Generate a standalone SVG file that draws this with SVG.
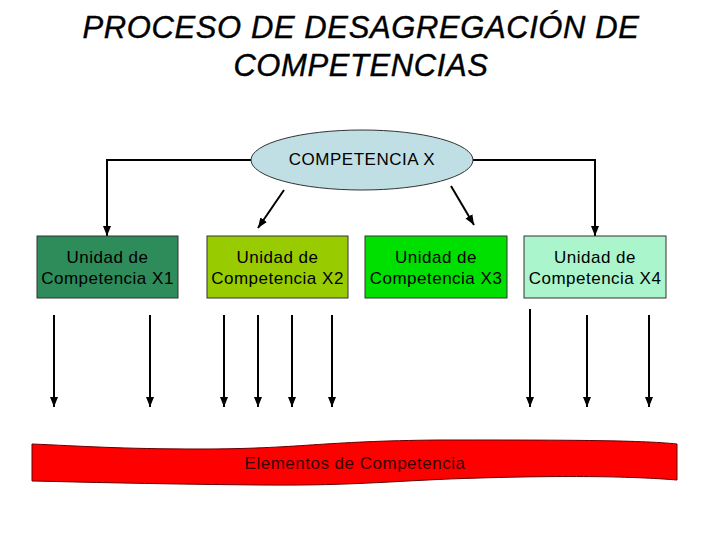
<svg xmlns="http://www.w3.org/2000/svg" width="720" height="540" viewBox="0 0 720 540">
<defs>
<style>
.t{font-family:"Liberation Sans",Arial,sans-serif;}
.title{font-size:31px;font-style:italic;fill:#000;text-anchor:middle;letter-spacing:0.6px;}
.lbl{font-size:17px;fill:#000;text-anchor:middle;letter-spacing:0.5px;}
.box{stroke:#333;stroke-width:1;}
.c{fill:none;stroke:#000;stroke-width:2;}
</style>
<marker id="a" viewBox="0 0 10 10" refX="10" refY="5" markerWidth="5" markerHeight="5" orient="auto">
<path d="M0,1 L10,5 L0,9 z" fill="#000"/>
</marker>
</defs>
<rect width="720" height="540" fill="#fff"/>
<g id="title" class="t">
<text class="t title" x="361" y="38" stroke="#000" stroke-width="0.4">PROCESO DE DESAGREGACIÓN DE</text>
<text class="t title" x="361" y="76" stroke="#000" stroke-width="0.4">COMPETENCIAS</text>
</g>
<g id="connectors">
<path class="c" d="M251,160 H107 V236" marker-end="url(#a)"/>
<path class="c" d="M473,160 H595 V236" marker-end="url(#a)"/>
<path class="c" d="M284,190 L258,228" marker-end="url(#a)"/>
<path class="c" d="M451,186 L474,225" marker-end="url(#a)"/>
<path class="c" d="M54,315 V407" marker-end="url(#a)"/>
<path class="c" d="M150,315 V407" marker-end="url(#a)"/>
<path class="c" d="M224,315 V407" marker-end="url(#a)"/>
<path class="c" d="M258,315 V407" marker-end="url(#a)"/>
<path class="c" d="M292,315 V407" marker-end="url(#a)"/>
<path class="c" d="M332,315 V407" marker-end="url(#a)"/>
<path class="c" d="M530,309 V407" marker-end="url(#a)"/>
<path class="c" d="M587,315 V407" marker-end="url(#a)"/>
<path class="c" d="M649,315 V407" marker-end="url(#a)"/>
</g>
<g id="competencia-x">
<ellipse cx="362" cy="160" rx="111" ry="30" fill="#c0dfe4" stroke="#333" stroke-width="1"/>
<text class="t lbl" x="362" y="165">COMPETENCIA X</text>
</g>
<g id="x1">
<rect class="box" x="37" y="236" width="141" height="62" fill="#2e8b5a"/>
<text class="t lbl" x="107.5" y="263">Unidad de</text>
<text class="t lbl" x="107.5" y="284">Competencia X1</text>
</g>
<g id="x2">
<rect class="box" x="207" y="236" width="141" height="62" fill="#99cc00"/>
<text class="t lbl" x="277.5" y="263">Unidad de</text>
<text class="t lbl" x="277.5" y="284">Competencia X2</text>
</g>
<g id="x3">
<rect class="box" x="365" y="236" width="142" height="62" fill="#00e000"/>
<text class="t lbl" x="436" y="263">Unidad de</text>
<text class="t lbl" x="436" y="284">Competencia X3</text>
</g>
<g id="x4">
<rect class="box" x="524" y="236" width="142" height="62" fill="#aaf5cc"/>
<text class="t lbl" x="595" y="263">Unidad de</text>
<text class="t lbl" x="595" y="284">Competencia X4</text>
</g>
<g id="elementos">
<path d="M32,444 C80,446 120,449 200,449 C300,449 320,441 440,440 C560,440 640,440 677,444 L677,480 C640,477 580,475 480,478 C400,480 360,486 260,485 C150,484 80,482 32,481 Z" fill="#ff0000" stroke="#600" stroke-width="1"/>
<text class="t lbl" x="355" y="469" style="fill:#3a0000">Elementos de Competencia</text>
</g>
</svg>
